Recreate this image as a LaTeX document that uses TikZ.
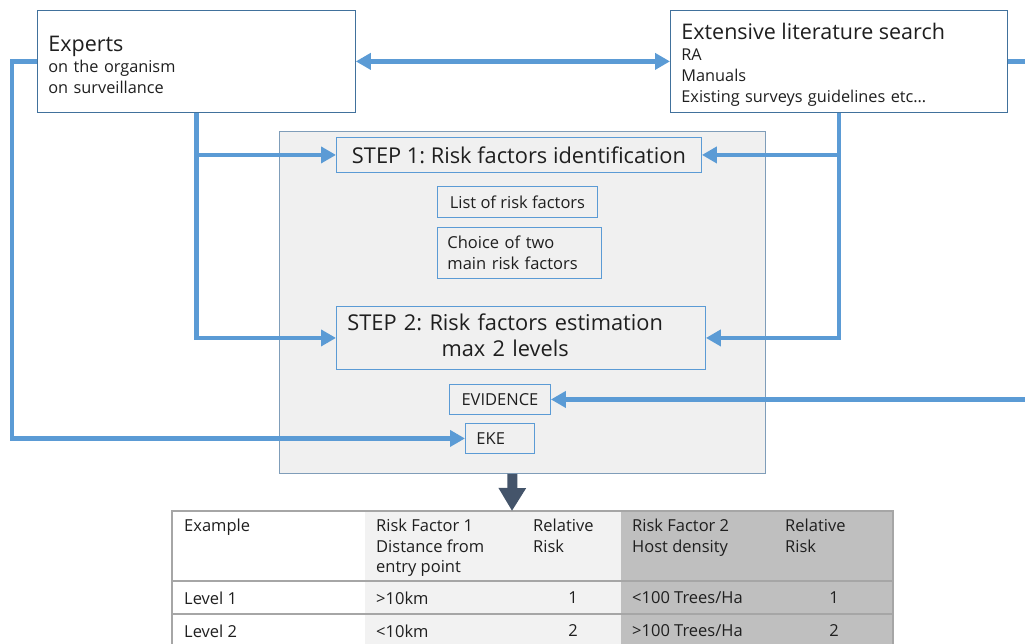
\documentclass[tikz,border=0pt]{standalone}
\usepackage{fontspec}
\setmainfont{Open Sans}
\frenchspacing
\usetikzlibrary{arrows.meta,positioning}
\definecolor{linkblue}{HTML}{5B9BD5}
\definecolor{boxedge}{HTML}{41719C}
\definecolor{panelfill}{HTML}{F0F0F0}
\definecolor{paneledge}{HTML}{7F9DB9}
\definecolor{slate}{HTML}{44546A}
\definecolor{darkcell}{HTML}{BFBFBF}
\definecolor{lightcell}{HTML}{F2F2F2}
\definecolor{rulegray}{HTML}{A6A6A6}

\begin{document}
\begin{tikzpicture}[x=1pt,y=-1pt,
  every node/.style={text=black!88},
  src/.style={draw=boxedge,line width=0.8pt,fill=white,align=left,
              inner xsep=11pt,inner ysep=0pt,anchor=north west,
              font=\fontsize{16.3}{21}\selectfont},
  inbox/.style={draw=linkblue,line width=0.9pt,fill=panelfill,
                anchor=north west,inner sep=0pt,font=\fontsize{16.5}{21}\selectfont},
  big/.style={font=\fontsize{21.8}{26}\selectfont},
  link/.style={draw=linkblue,line width=4.5pt},
  tip/.style={-{Triangle[length=15pt,width=16pt]}},
  twotip/.style={{Triangle[length=15pt,width=16pt]}-{Triangle[length=15pt,width=16pt]}},
  down/.style={draw=slate,line width=10pt,-{Triangle[length=23pt,width=26pt]}},
  head/.style={anchor=north west,align=left,inner sep=0pt,
               font=\fontsize{16.5}{20.5}\selectfont},
  cell/.style={anchor=west,inner sep=0pt,font=\fontsize{16.5}{18}\selectfont},
  num/.style={anchor=center,inner sep=0pt,font=\fontsize{16.5}{18}\selectfont}
]
\useasboundingbox (0,0) rectangle (1025,644);
\coordinate (rim) at (1025,0);
% --- sources ---
\node[src,minimum width=318pt,minimum height=102pt,text width=296pt] (experts) at (37,10)
  {\rule{0pt}{22pt}{\fontsize{21.5}{23}\selectfont Experts}\\on the organism\\on surveillance};
\node[src,minimum width=337pt,minimum height=102pt,text width=315pt] (lit) at (670,10)
  {\rule{0pt}{22.5pt}{\fontsize{21.5}{23}\selectfont Extensive literature search}\\RA\\Manuals\\Existing surveys guidelines etc\dots};
% --- panel with the steps ---
\node[draw=paneledge,fill=panelfill,line width=0.8pt,minimum width=486pt,
      minimum height=342pt,anchor=north west,inner sep=0pt] (panel) at (279,131) {};
\node[inbox,big,minimum width=365pt,minimum height=35pt] (step1) at (336,137)
  {STEP 1: Risk factors identification};
\node[inbox,minimum width=160pt,minimum height=31pt] (list) at (437,186)
  {List of risk factors};
\node[inbox,minimum width=164pt,minimum height=51pt,align=left,text width=144pt,
      inner xsep=10pt] (choice) at (437,227) {Choice of two\\main risk factors};
\node[inbox,big,minimum width=369pt,minimum height=63pt,align=left,text width=347pt,
      inner xsep=11pt] (step2) at (336,306)
  {\begin{tabular}{@{}c@{}}STEP 2: Risk factors estimation\\max 2 levels\end{tabular}};
\node[inbox,minimum width=101pt,minimum height=30pt] (evidence) at (449,384) {EVIDENCE};
\node[inbox,minimum width=69pt,minimum height=30pt,align=left,text width=47pt,
      inner xsep=11pt] (eke) at (465,423) {EKE};
% --- connectors ---
\draw[link,twotip] (experts.east) -- (lit.west);
\draw[link] (lit.east) -- (lit.east -| rim);
\draw[link,tip] (experts.south) |- (step2.west);
\draw[link,tip] (experts.south |- step1.west) -- (step1.west);
\draw[link,tip] (lit.south) |- (step2.east);
\draw[link,tip] (lit.south |- step1.east) -- (step1.east);
\draw[link,tip] (evidence.east -| rim) -- (evidence.east);
\draw[link,tip] (experts.west) -- ++(-25,0) |- (eke.west);
% --- example table ---
\coordinate (tabtop) at (512,511);
\fill[lightcell] (365,511) rectangle (621,644);
\fill[darkcell] (621,511) rectangle (893,644);
\draw[rulegray,line width=1.5pt] (172,644) -- (172,511) -- (893,511) -- (893,644);
\foreach \y in {581,614}
  \draw[rulegray,line width=1.5pt] (172,\y) -- (893,\y);
\draw[down] ([xshift=-10pt]panel.south) -- (tabtop);
\node[head] (h1) at (184,519) {Example};
\node[head] (h2) at (376,519) {Risk Factor 1\\Distance from\\entry point};
\node[head] (h3) at (533,519) {Relative\\Risk};
\node[head] (h4) at (632,519) {Risk Factor 2\\Host density};
\node[head] (h5) at (785,519) {Relative\\Risk};
\node[cell] (l1)  at (184,598) {Level 1};
\node[cell] (d1)  at (376,598) {>10km};
\node[num]  (r1)  at (573,598) {1};
\node[cell] (t1)  at (632,598) {<100 Trees/Ha};
\node[num]  (s1)  at (834,598) {1};
\node[cell] (l2)  at (184,631) {Level 2};
\node[cell] (d2)  at (376,631) {<10km};
\node[num]  (r2)  at (573,631) {2};
\node[cell] (t2)  at (632,631) {>100 Trees/Ha};
\node[num]  (s2)  at (834,631) {2};
\end{tikzpicture}
\end{document}
